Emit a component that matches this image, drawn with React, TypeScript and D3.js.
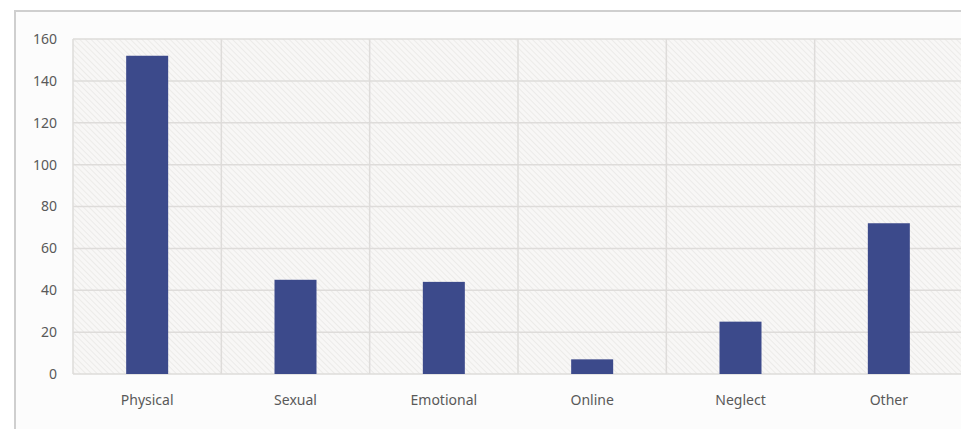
import React from "react";
import * as d3 from "d3";

const categories = ["Physical", "Sexual", "Emotional", "Online", "Neglect", "Other"];
const values = [152, 45, 44, 7, 25, 72];
const yTicks = [0, 20, 40, 60, 80, 100, 120, 140, 160];

export default function App() {
  const W = 961, H = 429;
  const left = 73, right = 963, top = 39, bottom = 374;
  const x = d3.scaleBand<string>().domain(categories).range([left, right]).paddingInner(0).paddingOuter(0);
  const y = d3.scaleLinear().domain([0, 160]).range([bottom, top]);
  const bw = 42;
  const font = "'Noto Sans', 'Open Sans', sans-serif";
  return (
    <svg width={W} height={H} style={{ position: "absolute", left: 0, top: 0, background: "#ffffff" }}>
      <defs>
        <pattern id="hatch" width="4" height="4" patternUnits="userSpaceOnUse" patternTransform="rotate(-45)">
          <rect width="4" height="4" fill="#f8f7f6" />
          <line x1="0" y1="0" x2="0" y2="4" stroke="#e8e6e4" strokeWidth="1.4" />
        </pattern>
      </defs>
      <rect x={15} y={11} width={W} height={H} fill="#fcfcfc" stroke="#cfcfcf" strokeWidth={2} />
      <rect x={left} y={top} width={right - left} height={bottom - top} fill="url(#hatch)" />
      {yTicks.map((t) => (
        <line key={"g" + t} x1={left} x2={right} y1={y(t)} y2={y(t)} stroke="#dedcda" strokeWidth={1.5} />
      ))}
      {categories.map((c) => (
        <line key={"v" + c} x1={x(c)!} x2={x(c)!} y1={top} y2={bottom} stroke="#dedcda" strokeWidth={1.5} />
      ))}
      {categories.map((c, i) => {
        const cx = x(c)! + x.bandwidth() / 2;
        return (
          <rect key={"b" + c} x={cx - bw / 2} y={y(values[i])} width={bw} height={y(0) - y(values[i])} fill="#3c4a8b" />
        );
      })}
      {yTicks.map((t) => (
        <text key={"t" + t} x={57} y={y(t)} dy="0.35em" textAnchor="end" fontFamily={font} fontSize={14} fill="#595959">
          {t}
        </text>
      ))}
      {categories.map((c) => (
        <text key={"l" + c} x={x(c)! + x.bandwidth() / 2} y={400} dy="0.35em" textAnchor="middle" fontFamily={font} fontSize={14} fill="#595959">
          {c}
        </text>
      ))}
    </svg>
  );
}
